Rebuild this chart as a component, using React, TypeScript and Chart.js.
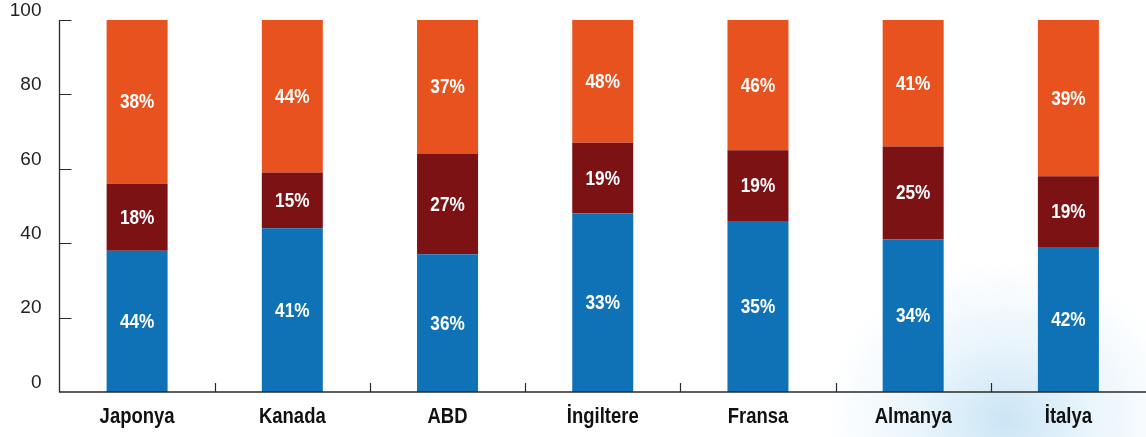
import React, { useEffect, useRef } from "react";
import { Chart, registerables } from "chart.js";

Chart.register(...registerables);

const categories = ["Japonya", "Kanada", "ABD", "İngiltere", "Fransa", "Almanya", "İtalya"];
// segment heights as drawn (in axis units)
const blueValues = [38, 44, 37, 48, 46, 41, 39];
const darkValues = [18, 15, 27, 19, 19, 25, 19];
const orangeValues = [44, 41, 36, 33, 35, 34, 42];
// labels printed on segments
const blueLabels = ["44%", "41%", "36%", "33%", "35%", "34%", "42%"];
const darkLabels = ["18%", "15%", "27%", "19%", "19%", "25%", "19%"];
const orangeLabels = ["38%", "44%", "37%", "48%", "46%", "41%", "39%"];
const yTicks = [0, 20, 40, 60, 80, 100];

const FONT = "'Liberation Sans', Arial, sans-serif";
const AXIS_COLOR = "#2a2a2a";

const segmentLabels = [blueLabels, darkLabels, orangeLabels];

function drawCondensed(ctx: any, text: string, x: number, y: number, sx: number) {
  ctx.save();
  ctx.translate(x, y);
  ctx.scale(sx, 1);
  ctx.fillText(text, 0, 0);
  ctx.restore();
}

const labelPlugin = {
  id: "segLabels",
  afterDatasetsDraw(chart: any) {
    const ctx = chart.ctx;
    ctx.save();
    ctx.fillStyle = "#ffffff";
    ctx.font = `bold 20px ${FONT}`;
    ctx.textAlign = "center";
    ctx.textBaseline = "middle";
    chart.data.datasets.forEach((ds: any, di: number) => {
      const meta = chart.getDatasetMeta(di);
      meta.data.forEach((el: any, i: number) => {
        const cy = (el.y + el.base) / 2;
        drawCondensed(ctx, segmentLabels[di][i], el.x, cy + 1, 0.86);
      });
    });
    ctx.restore();
  },
};

const axesPlugin = {
  id: "innerAxes",
  afterDraw(chart: any) {
    const ctx = chart.ctx;
    const { left, top, bottom } = chart.chartArea;
    const x = chart.scales.x;
    const y = chart.scales.y;
    ctx.save();
    ctx.strokeStyle = AXIS_COLOR;
    ctx.lineWidth = 1.3;
    ctx.beginPath();
    ctx.moveTo(left, top);
    ctx.lineTo(left, bottom);
    ctx.lineTo(chart.width, bottom);
    ctx.stroke();
    ctx.lineWidth = 1.2;
    ctx.beginPath();
    yTicks.forEach((v) => {
      if (v === 0) return;
      const py = Math.round(y.getPixelForValue(v)) + 0.5;
      ctx.moveTo(left, py);
      ctx.lineTo(left + 12, py);
    });
    for (let i = 0; i < categories.length - 1; i++) {
      const px = Math.round((x.getPixelForValue(i) + x.getPixelForValue(i + 1)) / 2) + 0.5;
      ctx.moveTo(px, bottom);
      ctx.lineTo(px, bottom - 9);
    }
    ctx.stroke();

    // y tick labels
    ctx.fillStyle = "#222";
    ctx.font = `19px ${FONT}`;
    ctx.textAlign = "right";
    ctx.textBaseline = "middle";
    yTicks.forEach((v) => {
      const py = y.getPixelForValue(v) - 9.5;
      ctx.fillText(String(v), left - 18, py);
    });

    // x category labels
    ctx.fillStyle = "#111";
    ctx.font = `bold 22px ${FONT}`;
    ctx.textAlign = "center";
    ctx.textBaseline = "alphabetic";
    categories.forEach((c, i) => {
      drawCondensed(ctx, c, x.getPixelForValue(i), bottom + 31, 0.84);
    });
    ctx.restore();
  },
};

export default function App() {
  const ref = useRef<HTMLCanvasElement>(null);
  useEffect(() => {
    if (!ref.current) return;
    const chart = new Chart(ref.current, {
      type: "bar",
      data: {
        labels: categories,
        datasets: [
          { data: blueValues, backgroundColor: "#0f72b6", borderWidth: 0 },
          { data: darkValues, backgroundColor: "#7d1215", borderWidth: 0 },
          { data: orangeValues, backgroundColor: "#e8521f", borderWidth: 0 },
        ],
      },
      options: {
        animation: false,
        responsive: false,
        maintainAspectRatio: false,
        layout: { padding: { top: 20, right: -2, bottom: 0, left: 0 } },
        plugins: { legend: { display: false }, tooltip: { enabled: false } },
        datasets: { bar: { categoryPercentage: 1, barPercentage: 0.393 } },
        scales: {
          x: {
            stacked: true,
            border: { display: false },
            grid: { display: false, drawTicks: false },
            ticks: { display: false },
            afterFit(scale: any) {
              scale.height = 45;
            },
          },
          y: {
            stacked: true,
            min: 0,
            max: 100,
            border: { display: false },
            grid: { display: false, drawTicks: false },
            ticks: { display: false, stepSize: 20 },
            afterFit(scale: any) {
              scale.width = 59.5;
            },
          },
        },
      },
      plugins: [labelPlugin, axesPlugin],
    } as any);
    return () => chart.destroy();
  }, []);
  return (
    <div
      style={{
        position: "fixed",
        left: 0,
        top: 0,
        width: 1146,
        height: 437,
        background:
          "radial-gradient(ellipse 180px 160px at 1005px 420px, rgba(200,228,245,0.95), rgba(218,237,249,0.55) 50%, rgba(255,255,255,0) 100%)",
      }}
    >
      <canvas ref={ref} width={1146} height={437} style={{ display: "block" }} />
    </div>
  );
}
